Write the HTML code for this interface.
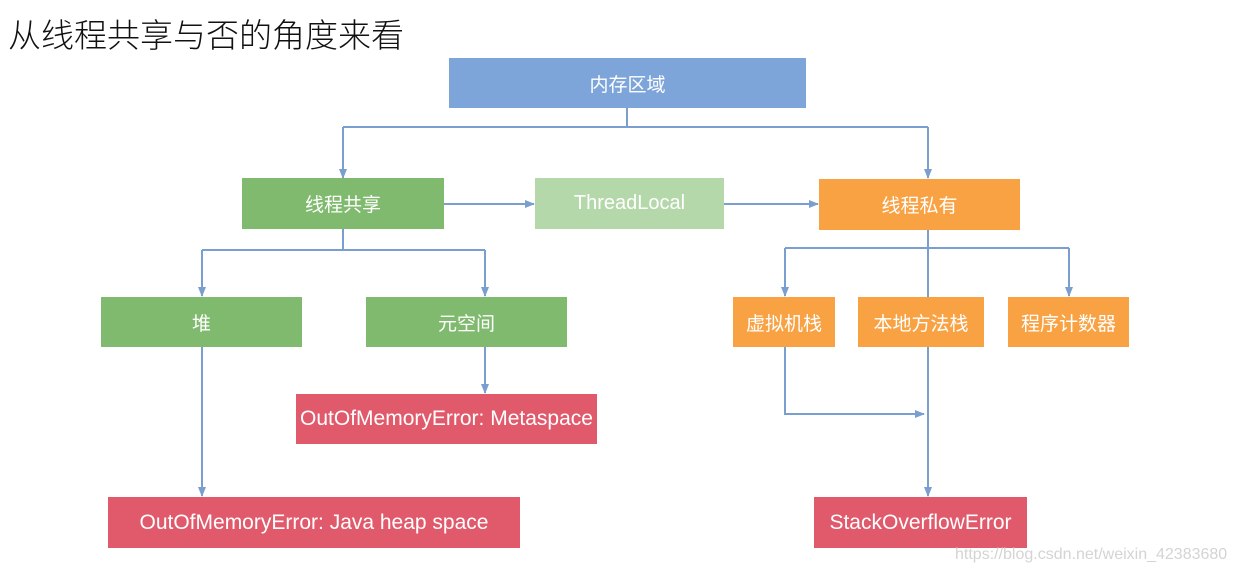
<!DOCTYPE html>
<html><head><meta charset="utf-8"><style>
body{margin:0;width:1240px;height:576px;background:#fff;position:relative;overflow:hidden;font-family:"Liberation Sans","Noto Sans CJK SC",sans-serif}
.b{position:absolute;color:#fff;display:flex;align-items:center;justify-content:center;font-size:19px}
.bl{background:#7ea5d9}.g{background:#80ba6f}.lg{background:#b5d8ab}.o{background:#f8a243}.r{background:#e15a6b;font-size:21px}
svg{position:absolute;left:0;top:0}
</style></head><body>
<div style="position:absolute;left:8px;top:9px;font-size:33px;color:#111;font-family:'Noto Sans CJK SC',sans-serif;font-weight:300">从线程共享与否的角度来看</div>
<svg width="1240" height="576">
<defs><marker id="a" markerWidth="10" markerHeight="10" refX="9" refY="5" orient="auto" markerUnits="userSpaceOnUse"><path d="M0,1 L10,5 L0,9z" fill="#7a9fcf"/></marker></defs>
<g stroke="#7a9fcf" stroke-width="2" fill="none">
<path d="M627 108 V127 M343 127 H928"/>
<path d="M343 127 V178" marker-end="url(#a)"/>
<path d="M928 127 V178" marker-end="url(#a)"/>
<path d="M444 204 H534" marker-end="url(#a)"/>
<path d="M724 204 H818" marker-end="url(#a)"/>
<path d="M343 229 V250 M202 250 H485"/>
<path d="M202 250 V296" marker-end="url(#a)"/>
<path d="M485 250 V296" marker-end="url(#a)"/>
<path d="M485 347 V393" marker-end="url(#a)"/>
<path d="M202 347 V496" marker-end="url(#a)"/>
<path d="M928 230 V496" marker-end="url(#a)"/>
<path d="M785 248 H1069"/>
<path d="M785 248 V296" marker-end="url(#a)"/>
<path d="M1069 248 V296" marker-end="url(#a)"/>
<path d="M785 347 V414 H924" marker-end="url(#a)"/>
</g></svg>
<div class="b bl" style="left:449px;top:58px;width:357px;height:50px">内存区域</div>
<div class="b g" style="left:242px;top:178px;width:202px;height:51px">线程共享</div>
<div class="b lg" style="left:535px;top:178px;width:189px;height:51px;font-size:20px">ThreadLocal</div>
<div class="b o" style="left:819px;top:179px;width:201px;height:51px">线程私有</div>
<div class="b g" style="left:101px;top:297px;width:201px;height:50px">堆</div>
<div class="b g" style="left:366px;top:297px;width:201px;height:50px">元空间</div>
<div class="b o" style="left:733px;top:297px;width:102px;height:50px">虚拟机栈</div>
<div class="b o" style="left:858px;top:297px;width:126px;height:50px">本地方法栈</div>
<div class="b o" style="left:1008px;top:297px;width:121px;height:50px">程序计数器</div>
<div class="b r" style="left:296px;top:394px;width:301px;height:50px">OutOfMemoryError: Metaspace</div>
<div class="b r" style="left:108px;top:497px;width:412px;height:51px">OutOfMemoryError: Java heap space</div>
<div class="b r" style="left:814px;top:497px;width:213px;height:51px">StackOverflowError</div>
<div style="position:absolute;left:955px;top:546px;font-size:16px;color:#d4d4d4">https://blog.csdn.net/weixin_42383680</div>
</body></html>
